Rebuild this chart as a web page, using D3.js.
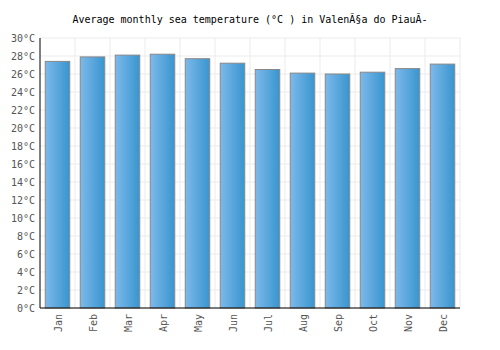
<!DOCTYPE html>
<html>
<head>
<meta charset="utf-8">
<script src="https://cdn.jsdelivr.net/npm/d3@7"></script>
<style>
  body { margin: 0; background: #fff; }
  text { font-family: "DejaVu Sans Mono", monospace; }
</style>
</head>
<body>
<svg id="chart" width="500" height="350"></svg>
<script>
const months = ["Jan", "Feb", "Mar", "Apr", "May", "Jun", "Jul", "Aug", "Sep", "Oct", "Nov", "Dec"];
const temps = [27.4, 27.9, 28.1, 28.2, 27.7, 27.2, 26.5, 26.1, 26.0, 26.2, 26.6, 27.1];
const yTicks = d3.range(0, 31, 2);

const svg = d3.select("#chart");
const margins = { top: 38, right: 40, bottom: 42, left: 40 };
const w = 500 - margins.left - margins.right;
const h = 350 - margins.top - margins.bottom;

const defs = svg.append("defs");
const grad = defs.append("linearGradient").attr("id", "barGrad")
    .attr("x1", "0%").attr("x2", "100%").attr("y1", "0%").attr("y2", "0%");
grad.append("stop").attr("offset", "0%").attr("stop-color", "#7db9ea");
grad.append("stop").attr("offset", "100%").attr("stop-color", "#3895cf");

// title (mis-encoded as on the source page)
svg.append("text")
    .attr("x", 250).attr("y", 23)
    .attr("text-anchor", "middle")
    .attr("font-size", "10px")
    .attr("fill", "#000")
    .text("Average monthly sea temperature (°C ) in ValenÃ§a do PiauÃ-");

const g = svg.append("g").attr("transform", `translate(${margins.left},${margins.top})`);

const x = d3.scaleBand().domain(months).range([0, w]).paddingInner(0.3).paddingOuter(0.15);
const xb = d3.scaleBand().domain(months).range([0, w]);
const y = d3.scaleLinear().domain([0, 30]).range([h, 0]);

// grid
g.selectAll("line.hgrid").data(yTicks)
    .join("line").attr("class", "hgrid")
    .attr("x1", 0).attr("x2", w)
    .attr("y1", d => y(d)).attr("y2", d => y(d))
    .attr("stroke", "#ebebeb").attr("stroke-width", 1);
g.selectAll("line.vgrid").data(months)
    .join("line").attr("class", "vgrid")
    .attr("x1", d => xb(d) + xb.bandwidth()).attr("x2", d => xb(d) + xb.bandwidth())
    .attr("y1", 0).attr("y2", h)
    .attr("stroke", "#ebebeb").attr("stroke-width", 1);

// bars
g.selectAll("rect.bar").data(temps)
    .join("rect").attr("class", "bar")
    .attr("x", (d, i) => x(months[i]))
    .attr("width", x.bandwidth())
    .attr("y", d => y(d))
    .attr("height", d => h - y(d))
    .attr("fill", "url(#barGrad)")
    .attr("stroke", "#888888")
    .attr("stroke-width", 1);

// y labels
g.selectAll("text.ylab").data(yTicks)
    .join("text").attr("class", "ylab")
    .attr("x", -5).attr("y", d => y(d) + 4)
    .attr("text-anchor", "end")
    .attr("font-size", "10px")
    .attr("fill", "#555")
    .text(d => d + "°C");

// x labels
g.selectAll("text.xlab").data(months)
    .join("text").attr("class", "xlab")
    .attr("transform", d => `translate(${xb(d) + xb.bandwidth() / 2 + 4},${h + 6}) rotate(-90)`)
    .attr("text-anchor", "end")
    .attr("font-size", "10px")
    .attr("fill", "#555")
    .text(d => d);

// axes lines
g.append("line").attr("x1", 0).attr("x2", 0).attr("y1", 0).attr("y2", h)
    .attr("stroke", "#000").attr("stroke-width", 1);
g.append("line").attr("x1", 0).attr("x2", w).attr("y1", h).attr("y2", h)
    .attr("stroke", "#000").attr("stroke-width", 1);
</script>
</body>
</html>
